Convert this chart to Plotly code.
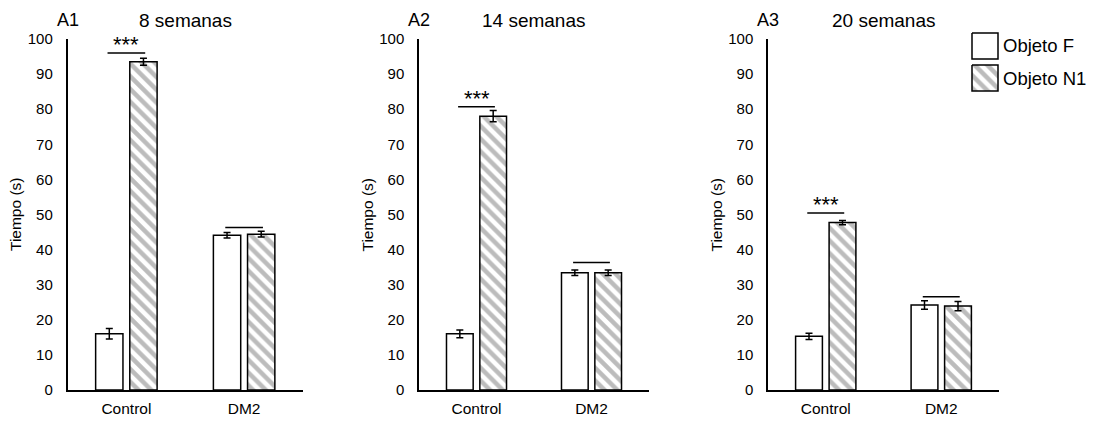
import plotly.graph_objects as go

W, H = 1094, 423          # browser window
OFF = 8                   # default page body margin
FW, FH = W - OFF, H - OFF

categories = ["Control", "DM2"]
panel_labels = ["A1", "A2", "A3"]
panel_titles = ["8 semanas", "14 semanas", "20 semanas"]
series_names = ["Objeto F", "Objeto N1"]

# values [panel][series][category]
objF_vals = [[16.0, 44.1], [16.0, 33.4], [15.3, 24.2]]
objF_err = [[1.5, 0.8], [1.1, 0.8], [0.9, 1.2]]
objN1_vals = [[93.5, 44.4], [78.0, 33.4], [47.7, 23.9]]
objN1_err = [[1.0, 0.8], [1.6, 0.8], [0.6, 1.3]]
sig_line_y = [[96.0, 46.3], [80.7, 36.3], [50.4, 26.6]]
sig_text = [["***", ""], ["***", ""], ["***", ""]]

FONT = "Arial, Liberation Sans, sans-serif"
hatch = dict(shape="\\", fgcolor="#7a7a7a", bgcolor="white", size=9, solidity=0.5)


def px(xw):
    return (xw - OFF) / FW


def py(yw):
    return 1 - (yw - OFF) / FH


# axis pixel positions (window coords)
x_px = [(67.5, 303), (419, 649), (768, 999)]
y_top, y_bot = 39, 390

fig = go.Figure()
annotations = []
shapes = []
for p in range(3):
    xa = "x" if p == 0 else f"x{p+1}"
    ya = "y" if p == 0 else f"y{p+1}"
    fig.add_trace(go.Bar(
        x=categories, y=objF_vals[p], name=series_names[0], xaxis=xa, yaxis=ya,
        marker=dict(color="white", line=dict(color="black", width=1.5)),
        error_y=dict(type="data", array=objF_err[p], color="black", thickness=1.5, width=3.5),
        showlegend=False))
    fig.add_trace(go.Bar(
        x=categories, y=objN1_vals[p], name=series_names[1], xaxis=xa, yaxis=ya,
        marker=dict(color="white", pattern=hatch, line=dict(color="black", width=1.5)),
        error_y=dict(type="data", array=objN1_err[p], color="black", thickness=1.5, width=3.5),
        showlegend=False))
    l, r = x_px[p]
    axkey_x = "xaxis" if p == 0 else f"xaxis{p+1}"
    axkey_y = "yaxis" if p == 0 else f"yaxis{p+1}"
    fig.update_layout(**{
        axkey_x: dict(domain=[px(l), px(r)], anchor=ya, type="category", automargin=False,
                      showline=True, linecolor="black", linewidth=1.5,
                      showgrid=False, zeroline=False, ticks="",
                      tickfont=dict(family=FONT, size=15.5, color="black"),
                      ticklabelstandoff=4),
        axkey_y: dict(domain=[py(y_bot), py(y_top)], anchor=xa, automargin=False,
                      range=[0, 100], tickmode="linear", tick0=0, dtick=10,
                      showline=True, linecolor="black", linewidth=1.5,
                      showgrid=False, zeroline=False, ticks="",
                      tickfont=dict(family=FONT, size=15, color="black"),
                      ticklabelstandoff=10),
    })
    # panel label and title
    annotations.append(dict(x=px(l), y=py(20), xref="paper", yref="paper",
                            text=panel_labels[p], showarrow=False, xanchor="center", yanchor="middle",
                            font=dict(family=FONT, size=18, color="black")))
    annotations.append(dict(x=px((l + r) / 2), y=py(20), xref="paper", yref="paper",
                            text=panel_titles[p], showarrow=False, xanchor="center", yanchor="middle",
                            font=dict(family=FONT, size=19, color="black")))
    # y axis title
    annotations.append(dict(x=px(l - 52), y=py((y_top + y_bot) / 2), xref="paper", yref="paper",
                            text="Tiempo (s)", textangle=-90, showarrow=False,
                            xanchor="center", yanchor="middle",
                            font=dict(family=FONT, size=15.5, color="black")))
    # significance brackets
    for ci in range(len(categories)):
        yv = sig_line_y[p][ci]
        shapes.append(dict(type="line", xref=xa, yref=ya, x0=ci - 0.16, x1=ci + 0.16,
                           y0=yv, y1=yv, line=dict(color="black", width=1.5)))
        if sig_text[p][ci]:
            annotations.append(dict(x=ci, y=yv, xref=xa, yref=ya, text=sig_text[p][ci],
                                    showarrow=False, xanchor="center", yanchor="bottom",
                                    yshift=-6, font=dict(family=FONT, size=22, color="black")))

# custom legend (large boxes) on an auxiliary pixel-coordinate axis
lx0, lx1, ly0, ly1 = 960, 1010, 25, 100
fig.update_layout(
    xaxis4=dict(domain=[px(lx0), px(lx1)], range=[lx0, lx1], visible=False, anchor="y4", automargin=False),
    yaxis4=dict(domain=[py(ly1), py(ly0)], range=[ly1, ly0], visible=False, anchor="x4", automargin=False),
)
legend_boxes = [(972, 998, 33, 59), (972, 998, 65, 91)]
for i, (bx0, bx1, by0, by1) in enumerate(legend_boxes):
    fig.add_trace(go.Scatter(
        x=[bx0, bx1, bx1, bx0, bx0], y=[by0, by0, by1, by1, by0], xaxis="x4", yaxis="y4",
        mode="lines", fill="toself", fillcolor="white",
        fillpattern=hatch if i == 1 else None,
        line=dict(color="black", width=1.5), showlegend=False, hoverinfo="skip"))
    annotations.append(dict(x=px(1001), y=py((by0 + by1) / 2), xref="paper", yref="paper",
                            text=series_names[i], showarrow=False, xanchor="left", yanchor="middle",
                            font=dict(family=FONT, size=18.5, color="black")))

fig.update_layout(
    width=FW, height=FH, margin=dict(l=0, r=0, t=0, b=0, autoexpand=False),
    paper_bgcolor="white", plot_bgcolor="white",
    barmode="group", bargap=0.42, bargroupgap=0.2,
    annotations=annotations, shapes=shapes, showlegend=False,
    font=dict(family=FONT, color="black"),
)

fig.write_html("out.html")
